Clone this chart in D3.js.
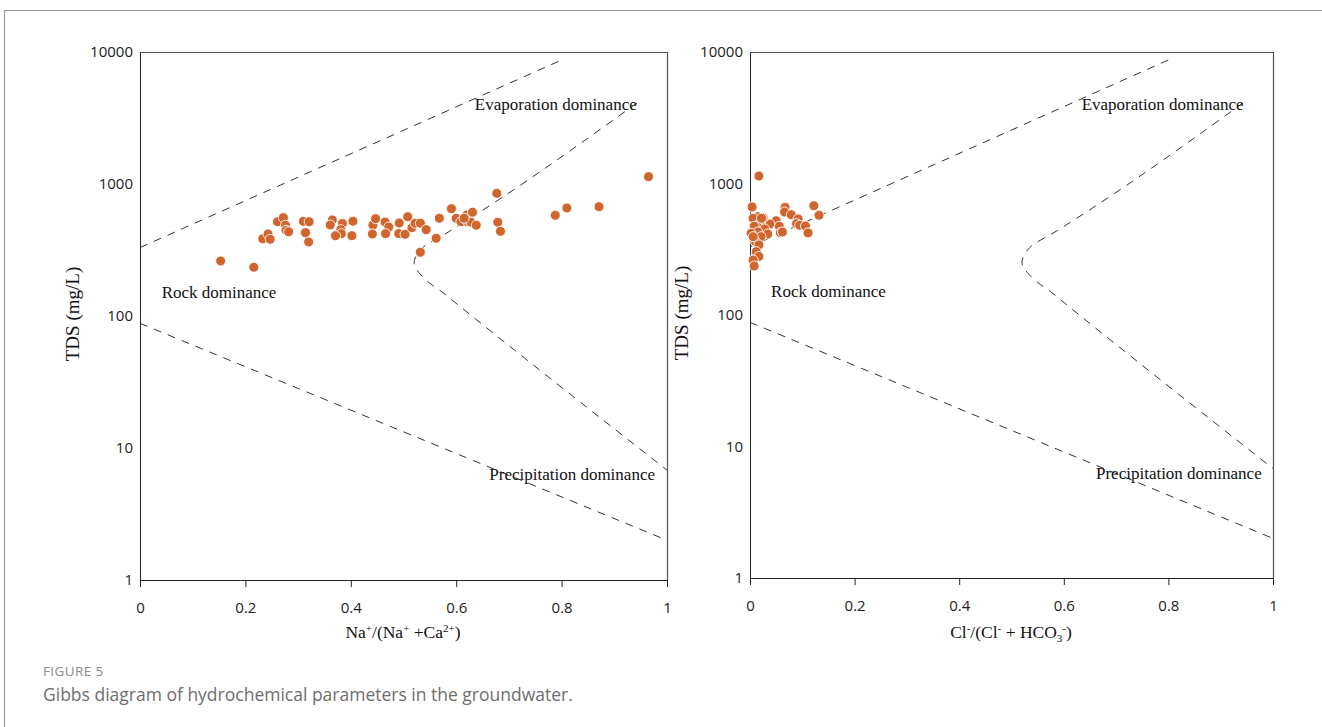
<!DOCTYPE html>
<html>
<head>
<meta charset="utf-8">
<script src="https://cdn.jsdelivr.net/npm/d3@7"></script>
<style>
  body { margin: 0; background: #fff; }
  svg { display: block; }
</style>
</head>
<body>
<div id="chart"></div>
<script>
// ---- data ----
var naRatio = [0.153,0.216,0.233,0.243,0.247,0.261,0.272,0.276,0.277,0.282,0.310,0.321,0.314,0.320,
  0.365,0.361,0.384,0.381,0.382,0.371,0.404,0.402,0.442,0.447,0.441,0.465,0.472,0.466,0.492,0.491,
  0.503,0.508,0.516,0.522,0.532,0.543,0.568,0.562,0.532,0.591,0.600,0.609,0.620,0.622,0.628,0.631,
  0.638,0.615,0.677,0.679,0.684,0.788,0.810,0.871,0.965];
var naTDS = [261,234,385,418,381,518,556,487,446,435,522,518,428,364,
  534,489,501,451,421,406,522,406,489,546,418,515,472,421,507,421,
  416,565,467,504,504,451,550,388,304,650,550,518,582,518,513,611,
  487,550,850,513,438,579,658,673,1136];

var clRatio = [0.017,0.004,0.067,0.066,0.079,0.122,0.132,0.092,0.089,0.095,0.106,0.111,0.050,0.056,
  0.058,0.062,0.038,0.025,0.015,0.008,0.006,0.019,0.014,0.008,0.028,0.034,0.015,0.002,0.021,0.010,
  0.017,0.012,0.017,0.006,0.008,0.022,0.006];
var clTDS = [1140,663,659,607,579,678,573,537,495,481,475,421,521,473,
  423,428,492,547,559,519,544,498,469,473,451,413,428,418,394,363,
  341,303,279,262,236,544,394];

// boundary curves of the Gibbs diagram
var upperBX = [0, 0.8];
var upperBY = [330, 8700];
var lowerBX = [0, 1];
var lowerBY = [88, 2.0];
var boomX = [0.943, 0.586, 0.535, 0.522, 0.520, 0.530, 0.550, 0.576, 0.604, 1];
var boomY = [4110, 435, 326, 274, 251, 211, 177, 149, 121, 6.8];

var xTicks = [0, 0.2, 0.4, 0.6, 0.8, 1];
var xTickLabels = ['0', '0.2', '0.4', '0.6', '0.8', '1'];
var yTicks = [1, 10, 100, 1000, 10000];
var yTickLabels = ['1', '10', '100', '1000', '10000'];

var W = 1322, H = 727;
var svg = d3.select('#chart').append('svg').attr('width', W).attr('height', H);

// figure box border
svg.append('path').attr('d', 'M4.5,' + H + ' V10.5 H' + W)
  .attr('fill', 'none').attr('stroke', '#9a9a9a').attr('stroke-width', 1.2);

var panels = [
  {x0: 140, x1: 667, y0: 580, y1: 52, xs: naRatio, ys: naTDS, titleX: 403, yTitleX: 75},
  {x0: 750, x1: 1273, y0: 578, y1: 52, xs: clRatio, ys: clTDS, titleX: 1011, yTitleX: 684}
];

var serif = 'Liberation Serif, Times New Roman, serif';
var sans = 'Open Sans, sans-serif';

panels.forEach(function(p, pi) {
  var x = d3.scaleLinear().domain([0, 1]).range([p.x0, p.x1]);
  var y = d3.scaleLog().domain([1, 10000]).range([p.y0, p.y1]);
  var g = svg.append('g');

  // frame top/right
  g.append('path').attr('d', 'M' + p.x0 + ',' + (p.y1 + 0.5) + ' H' + (p.x1 + 0.5) + ' V' + p.y0)
    .attr('fill', 'none').attr('stroke', '#555').attr('stroke-width', 1.2);

  // x axis
  var xAxis = d3.axisBottom(x).tickValues(xTicks).tickSize(7)
    .tickFormat(function(d, i) { return xTickLabels[i]; });
  var gx = g.append('g').attr('transform', 'translate(0,' + p.y0 + ')').call(xAxis);
  gx.select('.domain').attr('stroke', '#222');
  gx.selectAll('.tick line').attr('stroke', '#222');
  gx.selectAll('.tick text').attr('font-family', sans).attr('font-size', 15)
    .attr('fill', '#222').attr('y', 22);

  // y axis (labels only)
  var yAxis = d3.axisLeft(y).tickValues(yTicks).tickSize(0)
    .tickFormat(function(d, i) { return yTickLabels[i]; });
  var gy = g.append('g').attr('transform', 'translate(' + p.x0 + ',0)').call(yAxis);
  gy.select('.domain').attr('stroke', '#222');
  gy.selectAll('.tick text').attr('font-family', sans).attr('font-size', 15)
    .attr('fill', '#222').attr('x', -7);

  // dashed boundaries
  var line = d3.line().x(function(d) { return x(d[0]); }).y(function(d) { return y(d[1]); });
  var curves = [
    d3.zip(upperBX, upperBY),
    d3.zip(lowerBX, lowerBY),
    d3.zip(boomX, boomY)
  ];
  g.selectAll('path.bound').data(curves).enter().append('path')
    .attr('class', 'bound')
    .attr('d', line.curve(d3.curveMonotoneY))
    .attr('fill', 'none').attr('stroke', '#333').attr('stroke-width', 1)
    .attr('stroke-dasharray', '8,7');

  // region labels
  var lab = [
    {t: 'Evaporation dominance', x: x(0.789), y: y(3900)},
    {t: 'Rock dominance', x: x(0.15), y: y(147)},
    {t: 'Precipitation dominance', x: x(0.82), y: y(6.1)}
  ];
  g.selectAll('text.reg').data(lab).enter().append('text')
    .attr('class', 'reg')
    .attr('x', function(d) { return d.x; }).attr('y', function(d) { return d.y; })
    .attr('text-anchor', 'middle').attr('dominant-baseline', 'middle')
    .attr('font-family', serif).attr('font-size', 17)
    .attr('fill', '#111').text(function(d) { return d.t; });

  // points
  g.selectAll('circle').data(d3.zip(p.xs, p.ys)).enter().append('circle')
    .attr('cx', function(d) { return x(d[0]); })
    .attr('cy', function(d) { return y(d[1]); })
    .attr('r', 5)
    .attr('fill', '#d0652e').attr('stroke', '#fff').attr('stroke-width', 0.9);

  // y title
  g.append('text')
    .attr('transform', 'translate(' + p.yTitleX + ',' + ((p.y0 + p.y1) / 2 - 2) + ') rotate(-90)')
    .attr('text-anchor', 'middle').attr('dominant-baseline', 'middle')
    .attr('font-family', serif).attr('font-size', 19)
    .attr('fill', '#111').text('TDS (mg/L)');

  // x title with super/subscripts
  var t = g.append('text').attr('x', p.titleX).attr('y', 638)
    .attr('text-anchor', 'middle')
    .attr('font-family', serif).attr('font-size', 17.5)
    .attr('fill', '#111');
  var parts = pi === 0
    ? [['Na', 0], ['+', -1], ['/(Na', 0], ['+', -1], [' +Ca', 0], ['2+', -1], [')', 0]]
    : [['Cl', 0], ['-', -1], ['/(Cl', 0], ['-', -1], [' + HCO', 0], ['3', 1], ['-', -1], [')', 0]];
  var prev = 0;
  parts.forEach(function(q) {
    var off = q[1] === -1 ? -6 : (q[1] === 1 ? 4 : 0);
    t.append('tspan').attr('dy', off - prev)
      .attr('font-size', q[1] === 0 ? 17.5 : 11).text(q[0]);
    prev = off;
  });
});

// caption
svg.append('text').attr('x', 43).attr('y', 676)
  .attr('font-family', sans).attr('font-size', 13.5)
  .attr('fill', '#8a8a8a').attr('letter-spacing', 0.4).text('FIGURE 5');
svg.append('text').attr('x', 43).attr('y', 701)
  .attr('font-family', sans).attr('font-size', 17.5)
  .attr('fill', '#6e6e6e').text('Gibbs diagram of hydrochemical parameters in the groundwater.');
</script>
</body>
</html>
